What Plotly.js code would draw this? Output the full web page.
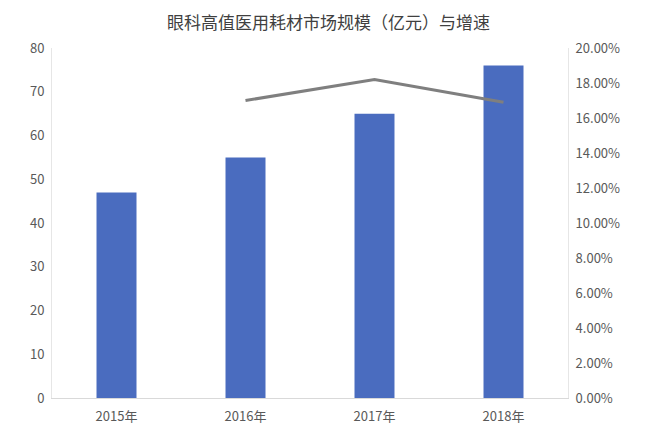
<!DOCTYPE html>
<html>
<head>
<meta charset="utf-8">
<script src="https://cdn.plot.ly/plotly-3.0.1.min.js"></script>
<style>
  html, body { margin: 0; padding: 0; background: #fff; }
  #chart { width: 657px; height: 434px; }
</style>
</head>
<body>
<div id="chart"></div>
<script>
var years = ['2015年', '2016年', '2017年', '2018年'];
var marketSize = [47, 55, 65, 76];
var growthYears = ['2016年', '2017年', '2018年'];
var growthRate = [0.170, 0.182, 0.169];

var bars = {
  x: years,
  y: marketSize,
  type: 'bar',
  name: '市场规模',
  width: 0.31,
  marker: { color: '#4a6cbf' },
  hoverinfo: 'x+y'
};

var line = {
  x: growthYears,
  y: growthRate,
  type: 'scatter',
  mode: 'lines',
  name: '增速',
  yaxis: 'y2',
  line: { color: '#7f7f7f', width: 3 }
};

var tickFont = { family: 'Noto Sans CJK SC, sans-serif', size: 13, color: '#595959' };

var layout = {
  width: 657,
  height: 434,
  margin: { l: 52, r: 89, t: 48, b: 36 },
  paper_bgcolor: '#fff',
  plot_bgcolor: '#fff',
  showlegend: false,
  title: {
    text: '眼科高值医用耗材市场规模（亿元）与增速',
    font: { family: 'Noto Sans CJK SC, sans-serif', size: 17, color: '#404040' },
    x: 0.5,
    xanchor: 'center',
    y: 0.96
  },
  xaxis: {
    type: 'category',
    showgrid: false,
    showline: true,
    linecolor: '#d9d9d9',
    linewidth: 1,
    ticks: '',
    ticklabelstandoff: 6,
    tickfont: tickFont
  },
  yaxis: {
    range: [0, 80],
    dtick: 10,
    showgrid: false,
    showline: true,
    linecolor: '#e6e6e6',
    zeroline: false,
    ticks: '',
    ticklabelstandoff: 4,
    tickfont: tickFont
  },
  yaxis2: {
    overlaying: 'y',
    side: 'right',
    range: [0, 0.2],
    dtick: 0.02,
    tickformat: '.2%',
    showgrid: false,
    showline: true,
    linecolor: '#e6e6e6',
    zeroline: false,
    ticks: '',
    ticklabelstandoff: 4,
    tickfont: tickFont
  }
};

Plotly.newPlot('chart', [bars, line], layout, { displayModeBar: false, staticPlot: true });
</script>
</body>
</html>
